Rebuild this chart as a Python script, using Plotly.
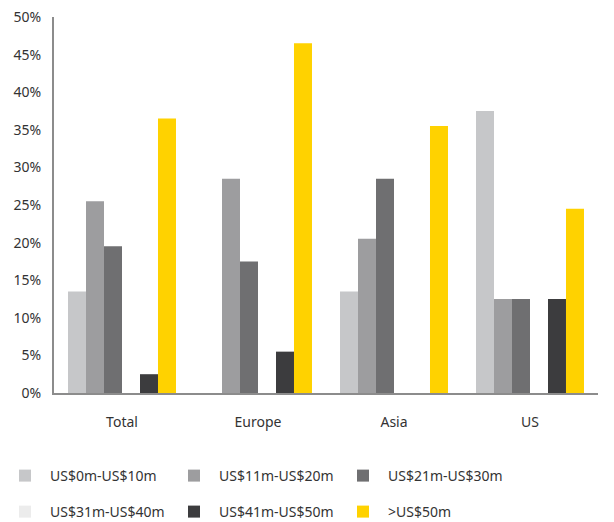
import plotly.graph_objects as go

categories = ["Total", "Europe", "Asia", "US"]
series_names = ["US$0m-US$10m", "US$11m-US$20m", "US$21m-US$30m",
                "US$31m-US$40m", "US$41m-US$50m", ">US$50m"]
s0_10 = [13.5, 0, 13.5, 37.5]
s11_20 = [25.5, 28.5, 20.5, 12.5]
s21_30 = [19.5, 17.5, 28.5, 12.5]
s31_40 = [0, 0, 0, 0]
s41_50 = [2.5, 5.5, 0, 12.5]
s50p = [36.5, 46.5, 35.5, 24.5]
series_values = [s0_10, s11_20, s21_30, s31_40, s41_50, s50p]
colors = ["#c6c7c9", "#9d9d9f", "#6f6f71", "#ececec", "#3c3c3e", "#ffd200"]
legend_rows = ["legend", "legend", "legend", "legend2", "legend2", "legend2"]
y_ticks = [0, 5, 10, 15, 20, 25, 30, 35, 40, 45, 50]
y_tick_labels = [f"{v}%" for v in y_ticks]

W, H = 614, 522

fig = go.Figure()
for name, vals, c, lg in zip(series_names, series_values, colors, legend_rows):
    fig.add_trace(go.Bar(x=categories, y=vals, name=name, marker_color=c,
                         marker_line_width=0, legend=lg))

font = "Noto Sans"
legend_common = dict(orientation="h", xref="container", yref="container",
                     x=0, xanchor="left", yanchor="middle",
                     entrywidth=114, entrywidthmode="pixels", traceorder="normal",
                     font=dict(size=14, color="#333333"), itemwidth=40,
                     bgcolor="rgba(0,0,0,0)")
fig.update_layout(
    width=W, height=H,
    margin=dict(l=54, r=16, t=17, b=129, autoexpand=False),
    paper_bgcolor="white", plot_bgcolor="white",
    barmode="group", bargap=0.206, bargroupgap=0,
    font=dict(family=font, size=14, color="#333333"),
    xaxis=dict(showline=True, linecolor="#8c8c8c", linewidth=2, ticks="",
               tickfont=dict(size=14, color="#333333"), showgrid=False,
               ticklabelstandoff=15),
    yaxis=dict(range=[0, 50], tickvals=y_ticks, ticktext=y_tick_labels,
               showline=True, linecolor="#8c8c8c", linewidth=2, showgrid=False,
               ticks="", zeroline=False, tickfont=dict(size=14, color="#333333"),
               ticklabelstandoff=8),
    legend=dict(legend_common, y=1 - 476 / H),
    legend2=dict(legend_common, y=1 - 512 / H),
    showlegend=True,
)
fig.write_html("out.html", config={"displayModeBar": False},
               post_script="document.body.style.margin='0';")
